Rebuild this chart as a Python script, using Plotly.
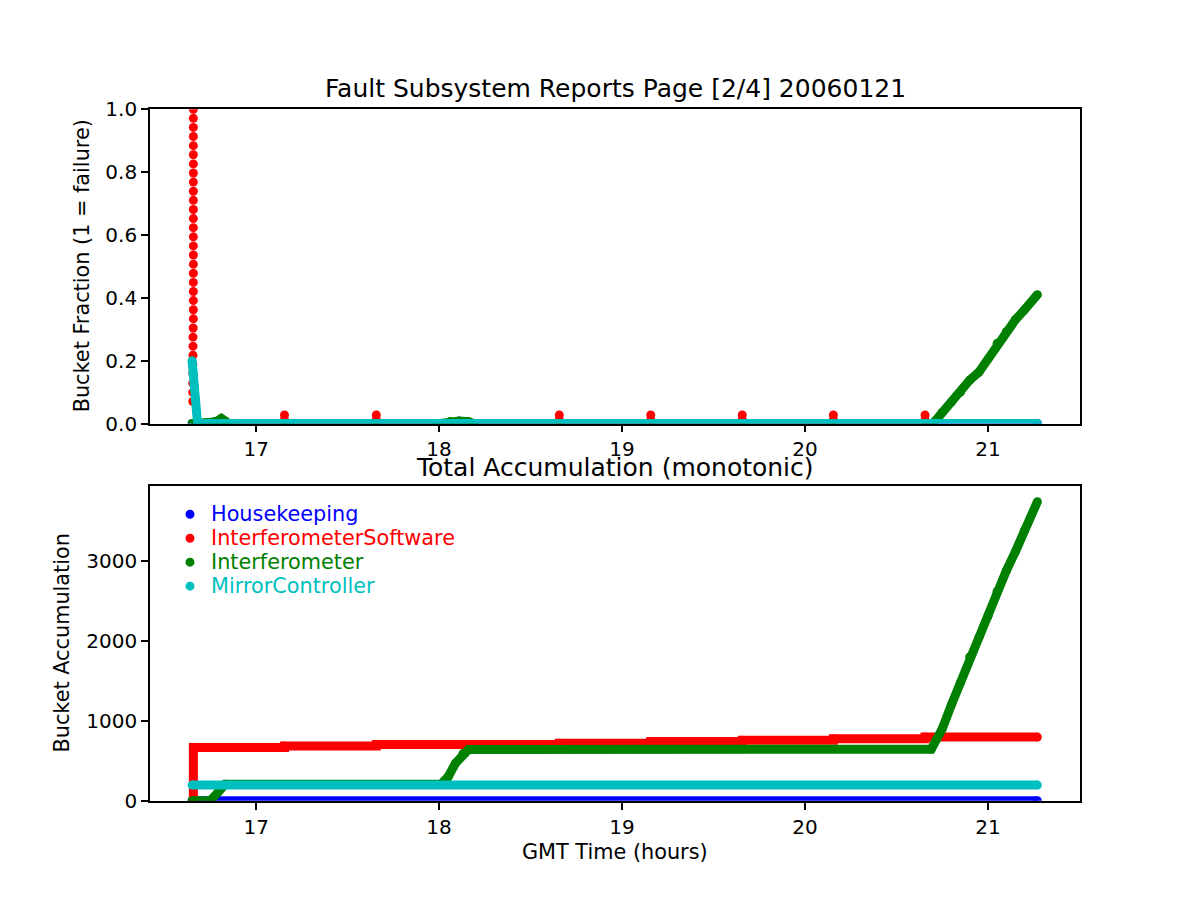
import plotly.graph_objects as go

# ---------------- data: top panel (bucket fraction) ----------------
hk_top_x = [16.650, 21.270]
hk_top_y = [0.0, 0.0]

isw_top_x = [16.657, 16.657, 16.657, 16.657, 16.657, 16.657, 16.657, 16.657,
             16.657, 16.657, 16.657, 16.657, 16.657, 16.657, 16.657, 16.657,
             16.657, 16.657, 16.657, 16.657, 16.657, 16.657, 16.657, 16.657,
             16.656, 16.655, 16.655, 16.655, 16.654, 16.654, 16.654, 16.654,
             16.654,
             17.155, 17.155, 17.657, 17.657, 18.657, 18.657, 19.157, 19.157,
             19.657, 19.657, 20.155, 20.155, 20.656, 20.656]
isw_top_y = [1.00, 0.971, 0.942, 0.913, 0.884, 0.855, 0.826, 0.797,
             0.768, 0.739, 0.710, 0.681, 0.652, 0.623, 0.594, 0.565,
             0.536, 0.507, 0.478, 0.449, 0.420, 0.391, 0.362, 0.333,
             0.304, 0.275, 0.246, 0.217, 0.188, 0.159, 0.128, 0.099,
             0.070,
             0.027, 0.012, 0.027, 0.012, 0.027, 0.012, 0.027, 0.012,
             0.027, 0.012, 0.027, 0.012, 0.027, 0.012]

ifm_top_x = [16.650, 16.700, 16.760, 16.790, 16.810, 16.830, 16.850,
             18.010, 18.060, 18.110, 18.160, 18.190, 20.700, 20.750,
             20.800, 20.850, 20.900, 20.950, 21.000, 21.050, 21.100,
             21.150, 21.200, 21.270]
ifm_top_y = [0.0, 0.0, 0.004, 0.008, 0.016, 0.008, 0.0,
             0.0, 0.006, 0.008, 0.006, 0.0, 0.0, 0.035,
             0.068, 0.100, 0.138, 0.163, 0.205, 0.255, 0.292,
             0.330, 0.362, 0.410]

mc_top_x = [16.650, 16.656, 16.662, 16.668, 16.674, 16.680, 21.270]
mc_top_y = [0.200, 0.160, 0.120, 0.080, 0.040, 0.0, 0.0]

# ---------------- data: bottom panel (accumulation) ----------------
hk_acc_x = [16.650, 21.270]
hk_acc_y = [0, 0]

isw_acc_x = [16.655, 16.657, 17.155, 17.657, 18.657, 19.157, 19.657, 20.155, 20.656, 21.270]
isw_acc_y = [0, 666, 684, 702, 720, 740, 758, 777, 796, 796]

ifm_acc_x = [16.650, 16.750, 16.790, 16.830, 18.010, 18.050, 18.090, 18.130,
             18.160, 20.690, 20.750, 20.800, 20.850, 20.900, 20.950, 21.000,
             21.050, 21.100, 21.150, 21.200, 21.270]
ifm_acc_y = [0, 0, 100, 205, 205, 300, 470, 590,
             640, 645, 900, 1200, 1480, 1800, 2040, 2310,
             2620, 2880, 3120, 3390, 3745]

mc_acc_x = [16.650, 21.270]
mc_acc_y = [195, 195]

names = ["Housekeeping", "InterferometerSoftware", "Interferometer", "MirrorController"]
colors = ["#0000FF", "#FF0000", "#008000", "#00BFBF"]

x_ticks = [17, 18, 19, 20, 21]
top_ticks = [0.0, 0.2, 0.4, 0.6, 0.8, 1.0]
bot_ticks = [0, 1000, 2000, 3000]

MS = 9
LW = 9
FONT = "DejaVu Sans"


# map target screen pixels to paper coordinates (calibrated to the viewer)
def px_x(t):
    return (t - 8) / 1200


def px_y(t):
    return 1 - ((t - 18.6) / 0.9755) / 900


fig = go.Figure()

top_series = [(hk_top_x, hk_top_y, "lines+markers"),
              (isw_top_x, isw_top_y, "markers"),
              (ifm_top_x, ifm_top_y, "lines+markers"),
              (mc_top_x, mc_top_y, "lines+markers")]
for (xs, ys, mode), c in zip(top_series, colors):
    fig.add_trace(go.Scatter(x=xs, y=ys, mode=mode, xaxis="x", yaxis="y",
                             line=dict(color=c, width=LW),
                             marker=dict(color=c, size=MS, line=dict(width=0)),
                             showlegend=False, hoverinfo="skip"))

bot_series = [(hk_acc_x, hk_acc_y, "linear"),
              (isw_acc_x, isw_acc_y, "hv"),
              (ifm_acc_x, ifm_acc_y, "linear"),
              (mc_acc_x, mc_acc_y, "linear")]
for (xs, ys, shape), c in zip(bot_series, colors):
    fig.add_trace(go.Scatter(x=xs, y=ys, mode="lines+markers", xaxis="x2", yaxis="y2",
                             line=dict(color=c, width=LW, shape=shape),
                             marker=dict(color=c, size=MS, line=dict(width=0)),
                             showlegend=False, hoverinfo="skip"))

axis_common = dict(showline=True, linecolor="black", linewidth=1.7, mirror=True,
                   ticks="outside", ticklen=7, tickwidth=1.7, tickcolor="black",
                   showgrid=False, zeroline=False,
                   tickfont=dict(family=FONT, size=20, color="black"))

# manual legend (dot + coloured label) in the lower panel
legend_rows = [514, 538, 562, 586]
annotations = []
shapes = []
for n, c, ry in zip(names, colors, legend_rows):
    annotations.append(dict(text=n, x=px_x(209), y=px_y(ry), xref="paper", yref="paper",
                            showarrow=False, xanchor="left", yanchor="middle",
                            font=dict(family=FONT, size=20.8, color=c)))
    shapes.append(dict(type="circle", xref="paper", yref="paper",
                       x0=px_x(190 - 4.5), x1=px_x(190 + 4.5),
                       y0=px_y(ry + 4.5), y1=px_y(ry - 4.5),
                       fillcolor=c, line=dict(width=0)))

annotations += [
    dict(text="Fault Subsystem Reports Page [2/4] 20060121", x=px_x(615), y=px_y(87),
         xref="paper", yref="paper", showarrow=False, xanchor="center", yanchor="middle",
         font=dict(family=FONT, size=25, color="black")),
    dict(text="Total Accumulation (monotonic)", x=px_x(615), y=px_y(467),
         xref="paper", yref="paper", showarrow=False, xanchor="center", yanchor="middle",
         font=dict(family=FONT, size=25, color="black")),
    dict(text="Bucket Fraction (1 = failure)", x=px_x(82), y=px_y(265.5),
         xref="paper", yref="paper", showarrow=False, xanchor="center", yanchor="middle",
         textangle=-90, font=dict(family=FONT, size=20.8, color="black")),
    dict(text="Bucket Accumulation", x=px_x(62), y=px_y(643.5),
         xref="paper", yref="paper", showarrow=False, xanchor="center", yanchor="middle",
         textangle=-90, font=dict(family=FONT, size=20.8, color="black")),
    dict(text="GMT Time (hours)", x=px_x(615), y=px_y(852),
         xref="paper", yref="paper", showarrow=False, xanchor="center", yanchor="middle",
         font=dict(family=FONT, size=20.8, color="black")),
]

fig.update_layout(
    width=1200, height=900,
    margin=dict(l=0, r=0, t=0, b=0),
    paper_bgcolor="white", plot_bgcolor="white",
    font=dict(family=FONT, color="black"),
    showlegend=False,
    xaxis=dict(domain=[px_x(150), px_x(1080)], anchor="y", range=[16.42, 21.503],
               tickvals=x_ticks, **axis_common),
    yaxis=dict(domain=[px_y(423), px_y(108)], anchor="x", range=[0, 1],
               tickvals=top_ticks, tickformat=".1f", **axis_common),
    xaxis2=dict(domain=[px_x(150), px_x(1080)], anchor="y2", range=[16.42, 21.503],
                tickvals=x_ticks, **axis_common),
    yaxis2=dict(domain=[px_y(801), px_y(486)], anchor="x2", range=[0, 3937],
                tickvals=bot_ticks, **axis_common),
    annotations=annotations,
    shapes=shapes,
)

fig.write_html("out.html")
